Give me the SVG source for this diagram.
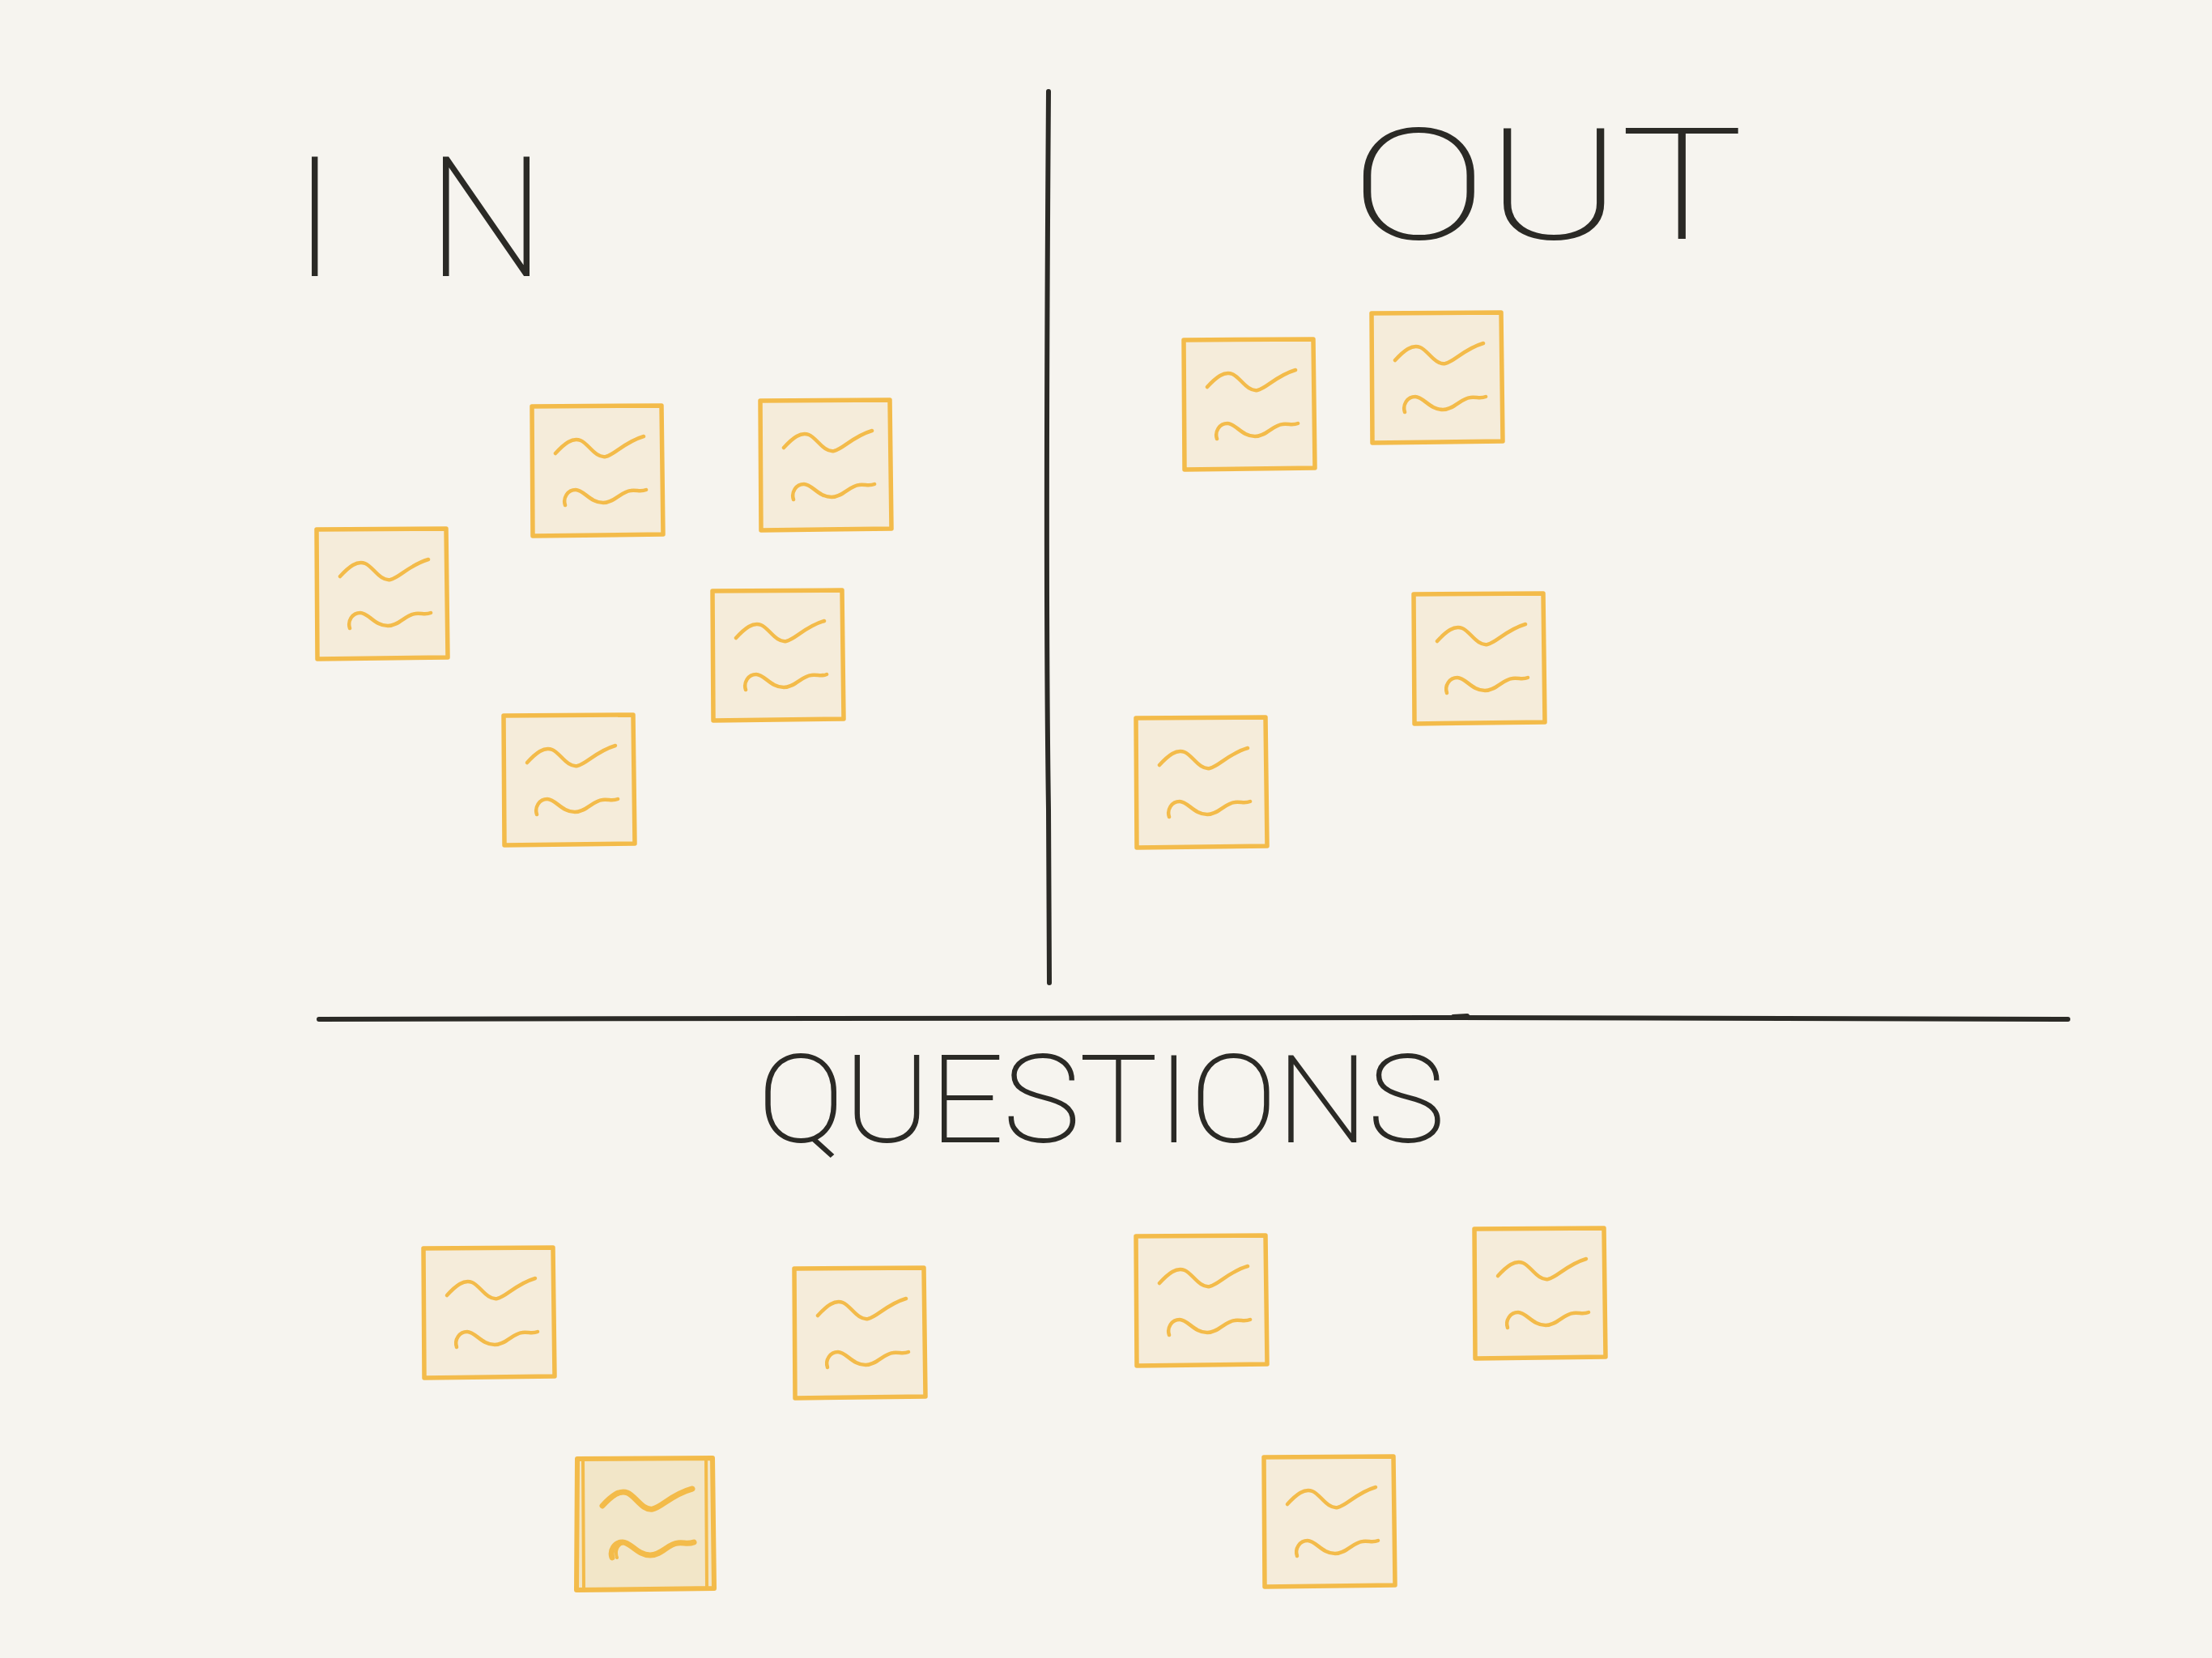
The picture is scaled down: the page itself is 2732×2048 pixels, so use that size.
<svg xmlns="http://www.w3.org/2000/svg" width="2732" height="2048" viewBox="0 0 2732 2048">
<style>
.bg{fill:#f6f4ef}
.ink{fill:none;stroke:#2b2a26;stroke-width:6;stroke-linecap:round;stroke-linejoin:round}
.note{fill:#f5ecda;stroke:#f3bb4a;stroke-width:5.5;stroke-linejoin:round}
.sq{fill:none;stroke:#f3bb4a;stroke-width:4.5;stroke-linecap:round;stroke-linejoin:round}
.lbl{font-family:Roboto,Lato,"Open Sans","Liberation Sans",sans-serif;font-weight:100;fill:#2b2a26;stroke:#2b2a26;stroke-width:2}
</style>
<defs>
<g id="sticky">
<path class="note" d="M2,2 L162,1 L164,160 L3,162 Z"/>
<path class="sq" d="M31,60 C42,48 52,40 62,44 C72,48 80,66 93,64 C104,62 116,46 140,39"/>
<path class="sq" d="M43,124 C40,115 46,105 56,105 C66,105 74,121 90,121 C104,121 112,107 124,106 C132,105 136,108 143,105"/>
</g>
</defs>
<rect class="bg" x="0" y="0" width="2732" height="2048"/>
<g id="connectors">
<path class="ink" d="M1295,113 C1293,400 1292,800 1295,1000 C1296,1100 1296,1160 1296,1214"/>
<path class="ink" d="M394,1259 C900,1258 1500,1257 1800,1257 C2100,1257 2350,1258 2554,1259"/>
<path class="ink" d="M1795,1256 L1812,1255" stroke-width="8"/>
</g>
<g id="label-in"><text class="lbl" x="362 528" y="340" font-size="205">IN</text></g>
<g id="label-out"><text class="lbl" x="1669" y="294" font-size="190" textLength="483" lengthAdjust="spacingAndGlyphs">OUT</text></g>
<g id="label-questions"><text class="lbl" x="936" y="1410" font-size="148" textLength="848" lengthAdjust="spacingAndGlyphs">QUESTIONS</text></g>
<g id="note-in-1"><use href="#sticky" x="655" y="500"/></g>
<g id="note-in-2"><use href="#sticky" x="937" y="493"/></g>
<g id="note-in-3"><use href="#sticky" x="389" y="652"/></g>
<g id="note-in-4"><use href="#sticky" x="878" y="728"/></g>
<g id="note-in-5"><use href="#sticky" x="620" y="882"/></g>
<g id="note-out-1"><use href="#sticky" x="1460" y="418"/></g>
<g id="note-out-2"><use href="#sticky" x="1692" y="385"/></g>
<g id="note-out-3"><use href="#sticky" x="1744" y="732"/></g>
<g id="note-out-4"><use href="#sticky" x="1401" y="885"/></g>
<g id="note-q-1"><use href="#sticky" x="521" y="1540"/></g>
<g id="note-q-2"><use href="#sticky" x="979" y="1565"/></g>
<g id="note-q-3"><use href="#sticky" x="1401" y="1525"/></g>
<g id="note-q-4"><use href="#sticky" x="1819" y="1516"/></g>
<g id="note-q-5" transform="translate(711,1800)">
<path class="note" d="M2,2 L169,1 L171,162 L1,164 Z" style="fill:#f2e6c8;stroke-width:6"/>
<path class="sq" d="M9,4 L10,161 M161,4 L162,161" style="stroke-width:4"/>
<path class="sq" d="M33,60 C44,48 54,40 64,44 C74,48 82,66 95,64 C106,62 118,46 144,39" style="stroke-width:7"/>
<path class="sq" d="M36,58 C47,47 57,41 66,45" style="stroke-width:3.5"/>
<path class="sq" d="M45,124 C42,115 48,105 58,105 C68,105 76,121 92,121 C106,121 114,107 126,106 C134,105 138,108 146,105" style="stroke-width:7"/>
<path class="sq" d="M51,124 C48,115 52,108 58,106" style="stroke-width:4"/>
</g>
<g id="note-q-6"><use href="#sticky" x="1559" y="1798"/></g>
</svg>
